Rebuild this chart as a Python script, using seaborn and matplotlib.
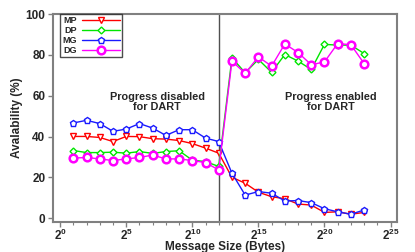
import numpy as np
import pandas as pd
import matplotlib
matplotlib.use("Agg")
import matplotlib.pyplot as plt
from matplotlib.ticker import NullFormatter
import seaborn as sns

# --- DATA ---
exponents = list(range(1, 24))
mp = [40.1, 40.1, 39.6, 37.6, 40.1, 40.0, 39.0, 38.8, 38.1, 36.6, 34.4, 31.9,
      20.1, 17.2, 12.8, 10.6, 9.6, 7.0, 6.5, 2.9, 3.2, 2.0, 2.9]
dp = [33.2, 32.2, 32.2, 32.4, 31.9, 32.7, 31.8, 32.7, 33.1, 28.5, 27.8, 25.4,
      78.6, 71.3, 77.8, 71.5, 80.2, 77.0, 72.9, 85.2, 84.8, 84.8, 80.7]
mg = [46.7, 48.0, 46.4, 42.6, 43.7, 46.4, 44.2, 40.6, 43.4, 43.4, 39.3, 37.6,
      22.1, 11.4, 13.1, 12.3, 8.5, 8.7, 7.7, 4.7, 3.2, 2.0, 4.1]
dg = [29.5, 29.8, 29.1, 28.3, 29.1, 29.8, 31.0, 29.1, 29.1, 28.3, 27.3, 23.7,
      77.0, 71.0, 79.1, 74.5, 85.4, 81.2, 75.2, 76.6, 85.6, 85.0, 75.8]
switch_exp = 12
xtick_exps = [0, 5, 10, 15, 20, 25]
ytick_vals = [0, 20, 40, 60, 80, 100]

sizes = [2 ** e for e in exponents]

# --- STYLE ---
sns.set_style("white")
plt.rcParams['font.family'] = ['Liberation Sans', 'DejaVu Sans']
plt.rcParams['font.weight'] = 'bold'
plt.rcParams['mathtext.fontset'] = 'custom'
plt.rcParams['mathtext.rm'] = 'Liberation Sans:bold'
plt.rcParams['mathtext.bf'] = 'Liberation Sans:bold'

fig = plt.figure(figsize=(4.15, 2.52), dpi=100)
ax = fig.add_axes([0.128, 0.119, 0.829, 0.825])

series = [
    ("MP", mp, dict(color="#ff0000", marker="v", markersize=4.5, markeredgewidth=1.0)),
    ("DP", dp, dict(color="#00e600", marker="D", markersize=3.5, markeredgewidth=1.0)),
    ("MG", mg, dict(color="#1a1aff", marker="p", markersize=5, markeredgewidth=1.0)),
    ("DG", dg, dict(color="#ff00ff", marker="o", markersize=5.5, markeredgewidth=1.8)),
]

for name, vals, kw in series:
    sns.lineplot(x=sizes, y=vals, ax=ax, label=name, linewidth=1.0,
                 markerfacecolor="white", markeredgecolor=kw["color"], **kw)

ax.axvline(2 ** switch_exp, color="#505050", linewidth=1.0, zorder=0)

ax.set_xscale("log", base=2)
ax.set_xlim(2 ** -0.53, 2 ** 25.5)
ax.set_ylim(-1.8, 100)
ax.set_xticks([2 ** e for e in xtick_exps])
ax.set_xticklabels([r"$\mathbf{2^{%d}}$" % e for e in xtick_exps], fontsize=8.5)
ax.set_xticks([2 ** e for e in range(0, 26)], minor=True)
ax.xaxis.set_minor_formatter(NullFormatter())
ax.set_yticks(ytick_vals)
ax.set_yticklabels([str(v) for v in ytick_vals], fontsize=8.5, fontweight="bold")

ax.tick_params(axis="both", which="major", direction="out", length=3.5, width=1,
               color="#808080", pad=2, bottom=True, left=True)
ax.tick_params(axis="x", which="major", pad=0.5)
ax.tick_params(axis="x", which="minor", direction="out", length=2, width=0.8,
               color="#808080", bottom=True)
for sp in ax.spines.values():
    sp.set_color("#808080")
    sp.set_linewidth(1.5)

ax.set_xlabel("Message Size (Bytes)", fontsize=8.5, fontweight="bold", labelpad=-1)
ax.set_ylabel("Avalability (%)", fontsize=8.5, fontweight="bold", labelpad=2)

ax.text(2 ** 7.35, 57, "Progress disabled\nfor DART", ha="center", va="center",
        fontsize=7.8, fontweight="bold", linespacing=1.0)
ax.text(2 ** 20.5, 57, "Progress enabled\nfor DART", ha="center", va="center",
        fontsize=7.8, fontweight="bold", linespacing=1.0)

leg = ax.legend(loc="upper left", bbox_to_anchor=(0.02, 1.0), markerfirst=False,
                fontsize=6.5, handlelength=4.2, borderaxespad=0.0, borderpad=0.25,
                labelspacing=0.1, handletextpad=0.6, fancybox=False, frameon=True)
leg.get_frame().set_edgecolor("#202020")
leg.get_frame().set_linewidth(1.0)
for t in leg.get_texts():
    t.set_fontweight("bold")

fig.savefig("out.png", dpi=100)
